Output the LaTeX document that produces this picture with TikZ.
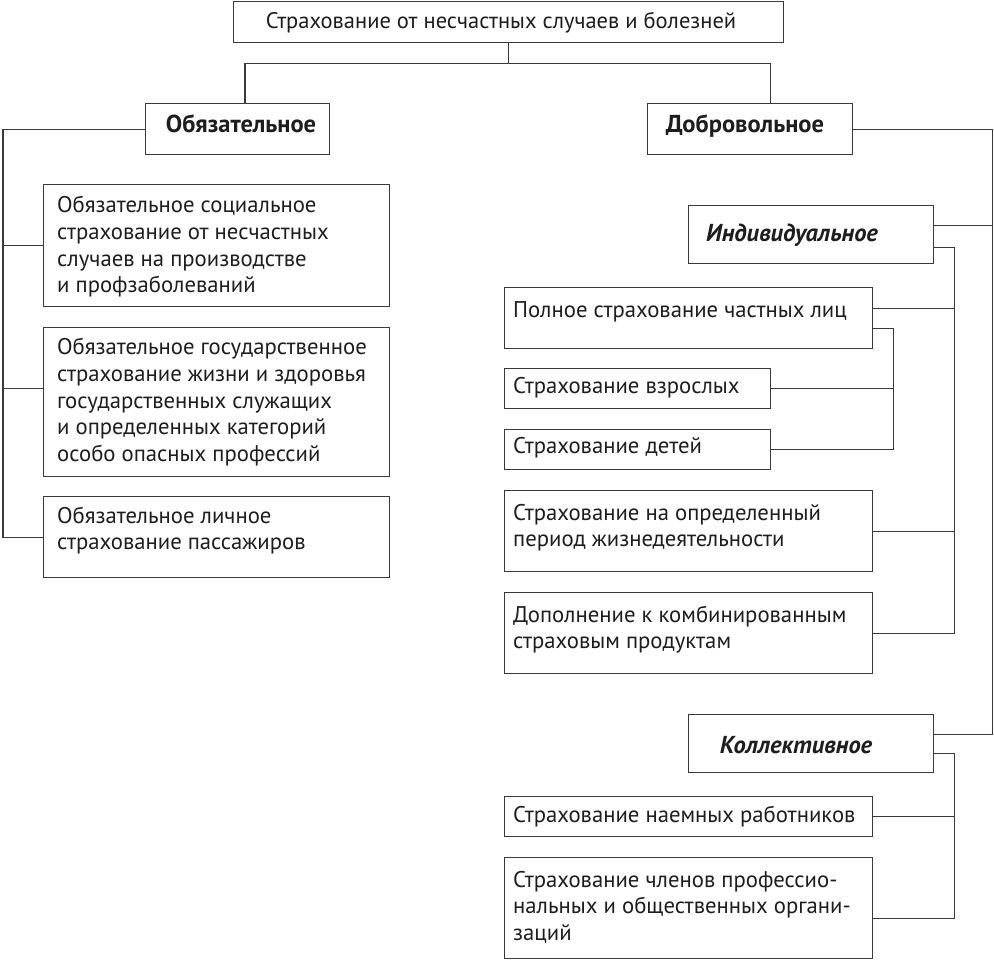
\documentclass[tikz,border=0pt]{standalone}
\usepackage{fontspec}
\setmainfont{PT Sans}
\usetikzlibrary{calc}
\definecolor{ln}{HTML}{3A3A3A}
\definecolor{tx}{HTML}{1E1E1E}
\newcommand\mylines[1]{\parbox[t]{440pt}{\raggedright\fontsize{22.7}{26.6}\selectfont #1}}
\tikzset{
  box/.style={draw=ln, line width=1.3pt, inner sep=0pt, anchor=north west, fill=white},
  txt/.style={anchor=base west, inner sep=0pt, text=tx},
  hd/.style={anchor=base, inner sep=0pt, text=tx, font=\fontsize{22.5}{26}\selectfont},
  bhd/.style={anchor=base, inner sep=0pt, text=tx, font=\fontsize{24.5}{28}\selectfont\bfseries},
  con/.style={draw=ln, line width=1.1pt}
}
\begin{document}
\begin{tikzpicture}[x=1pt,y=-1pt]
\useasboundingbox (0,0) rectangle (994,960);
% boxes
\node[box, minimum width=550pt, minimum height=41pt] (T) at (233,1) {};
\node[box, minimum width=184pt, minimum height=51pt] (O) at (145,103) {};
\node[box, minimum width=205pt, minimum height=51pt] (D) at (647,103) {};
\node[box, minimum width=346pt, minimum height=122pt] (L1) at (43,184) {};
\node[box, minimum width=346pt, minimum height=149pt] (L2) at (43,327) {};
\node[box, minimum width=346pt, minimum height=81pt] (L3) at (43,496) {};
\node[box, minimum width=245pt, minimum height=58pt] (I) at (688,205) {};
\node[box, minimum width=368pt, minimum height=61pt] (P) at (504,287) {};
\node[box, minimum width=266pt, minimum height=40pt] (Vz) at (504,368) {};
\node[box, minimum width=266pt, minimum height=40pt] (Det) at (504,429) {};
\node[box, minimum width=368pt, minimum height=81pt] (Sn) at (504,490) {};
\node[box, minimum width=368pt, minimum height=81pt] (Dop) at (504,592) {};
\node[box, minimum width=245pt, minimum height=58pt] (K) at (688,714) {};
\node[box, minimum width=368pt, minimum height=40pt] (Na) at (504,796) {};
\node[box, minimum width=368pt, minimum height=101pt] (Ch) at (504,857) {};
% texts
\node[hd] (tT) at (501,29) {Страхование от несчастных случаев и болезней};
\node[bhd] (tO) at (241,133) {Обязательное};
\node[bhd] (tD) at (745,133) {Добровольное};
\node[bhd, font=\fontsize{24.5}{28}\selectfont\bfseries\itshape] (tI) at (792,242) {Индивидуальное};
\node[bhd, font=\fontsize{24.5}{28}\selectfont\bfseries\itshape] (tK) at (796,753) {Коллективное};
\node[txt] (tL1) at (57,213) {\mylines{Обязательное социальное\\страхование от несчастных\\случаев на производстве\\и профзаболеваний}};
\node[txt] (tL2) at (57,355) {\mylines{Обязательное государственное\\страхование жизни и здоровья\\государственных служащих\\и определенных категорий\\особо опасных профессий}};
\node[txt] (tL3) at (57,523) {\mylines{Обязательное личное\\страхование пассажиров}};
\node[txt] (tP) at (513,317) {\mylines{Полное страхование частных лиц}};
\node[txt] (tVz) at (513,393) {\mylines{Страхование взрослых}};
\node[txt] (tDet) at (513,453) {\mylines{Страхование детей}};
\node[txt] (tSn) at (513,520) {\mylines{Страхование на определенный\\период жизнедеятельности}};
\node[txt] (tDop) at (513,622) {\mylines{Дополнение к комбинированным\\страховым продуктам}};
\node[txt] (tNa) at (513,822) {\mylines{Страхование наемных работников}};
\node[txt] (tCh) at (513,887) {\mylines{Страхование членов профессио-\\нальных и общественных органи-\\заций}};
% connectors
\coordinate (tj) at ([yshift=-20pt]T.south);
\draw[con] (T.south) -- (tj);
\draw[con] ([xshift=100pt]O.north west) |- (tj) -| ([xshift=-83pt]D.north east);
\draw[con] (O.west) -| ([xshift=-40pt]L3.west) -- (L3.west);
\draw[con] (L1.west) -- ++(-40,0);
\draw[con] ([yshift=14pt]L2.west) -- ++(-40,0);
\draw[con] (D.east) -| ([xshift=58pt,yshift=9pt]K.east) -- ([yshift=9pt]K.east);
\draw[con] ([yshift=9pt]I.east) -- ++(58,0);
\draw[con] ([yshift=-13pt]I.east) -| ([xshift=81pt]Dop.east) -- (Dop.east);
\draw[con] ([yshift=10pt]P.east) -- ++(81,0);
\draw[con] (Sn.east) -- ++(81,0);
\draw[con] ([yshift=-10pt]P.east) -| ([xshift=122pt]Det.east) -- (Det.east);
\draw[con] (Vz.east) -- ++(122,0);
\draw[con] ([yshift=-10pt]K.east) -| ([xshift=81pt,yshift=-10pt]Ch.east) -- ([yshift=-10pt]Ch.east);
\draw[con] (Na.east) -- ++(81,0);
\end{tikzpicture}
\end{document}
